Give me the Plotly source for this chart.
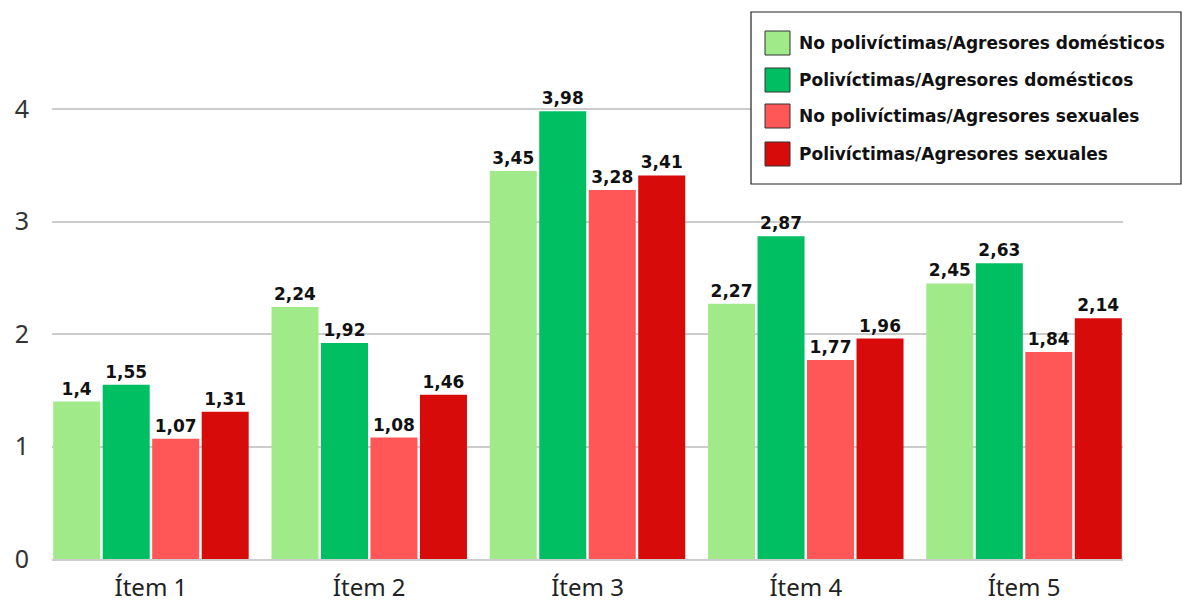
import plotly.graph_objects as go

# Items and series
items = ["Ítem 1", "Ítem 2", "Ítem 3", "Ítem 4", "Ítem 5"]
series_names = [
    "No polivíctimas/Agresores domésticos",
    "Polivíctimas/Agresores domésticos",
    "No polivíctimas/Agresores sexuales",
    "Polivíctimas/Agresores sexuales",
]
no_poli_domesticos = [1.4, 2.24, 3.45, 2.27, 2.45]
poli_domesticos = [1.55, 1.92, 3.98, 2.87, 2.63]
no_poli_sexuales = [1.07, 1.08, 3.28, 1.77, 1.84]
poli_sexuales = [1.31, 1.46, 3.41, 1.96, 2.14]
series_values = [no_poli_domesticos, poli_domesticos, no_poli_sexuales, poli_sexuales]
colors = ["#a0ea8a", "#00bf63", "#ff5757", "#d80b0b"]
y_ticks = [0, 1, 2, 3, 4]

W, H = 1182, 605
L, R, T, B = 52, 59, 64, 46
plot_w = W - L - R
plot_h = H - T - B

BOLD = dict(family="DejaVu Sans", size=17, color="#111111", weight="bold")


def px_x(px):
    return (px - L) / plot_w


def px_y(py):
    return (H - B - py) / plot_h


fig = go.Figure()
for name, vals, col in zip(series_names, series_values, colors):
    fig.add_trace(go.Bar(
        x=items, y=vals, name=name,
        marker=dict(color=col, line=dict(width=0)),
        texttemplate="%{y}", textposition="outside",
        textfont=BOLD, cliponaxis=False, showlegend=False,
    ))

# Legend box drawn in paper coordinates
shapes = [dict(type="rect", xref="paper", yref="paper",
               x0=px_x(751), x1=px_x(1181), y0=px_y(184), y1=px_y(12),
               line=dict(color="#222222", width=1.2), fillcolor="white", layer="above")]
annotations = []
row_centers = [43, 80, 116, 154]
for name, col, cy in zip(series_names, colors, row_centers):
    shapes.append(dict(type="rect", xref="paper", yref="paper",
                       x0=px_x(765), x1=px_x(790), y0=px_y(cy + 12), y1=px_y(cy - 12),
                       line=dict(color="#333333", width=1), fillcolor=col, layer="above"))
    annotations.append(dict(xref="paper", yref="paper", x=px_x(797), y=px_y(cy),
                            xanchor="left", yanchor="middle", showarrow=False,
                            text=name, font=BOLD))

fig.update_layout(
    width=W, height=H,
    margin=dict(l=L, r=R, t=T, b=B, pad=0),
    paper_bgcolor="white", plot_bgcolor="white",
    barmode="group", bargap=0.093, bargroupgap=0.05,
    separators=",.",
    shapes=shapes, annotations=annotations,
    xaxis=dict(
        type="category", range=[-0.4533, 4.4533], automargin=False,
        showgrid=False, showline=True, linecolor="#cccccc", linewidth=1.5,
        ticks="", ticklabelstandoff=6,
        tickfont=dict(family="Noto Sans", size=24, color="#222222"),
    ),
    yaxis=dict(
        range=[0, 4.4], tickvals=y_ticks, automargin=False,
        showgrid=True, gridcolor="#cccccc", gridwidth=1.5,
        zeroline=False, showline=False, ticks="", ticklabelstandoff=22,
        tickfont=dict(family="Noto Sans", size=25, color="#333333"),
    ),
)

fig.write_html("out.html")
